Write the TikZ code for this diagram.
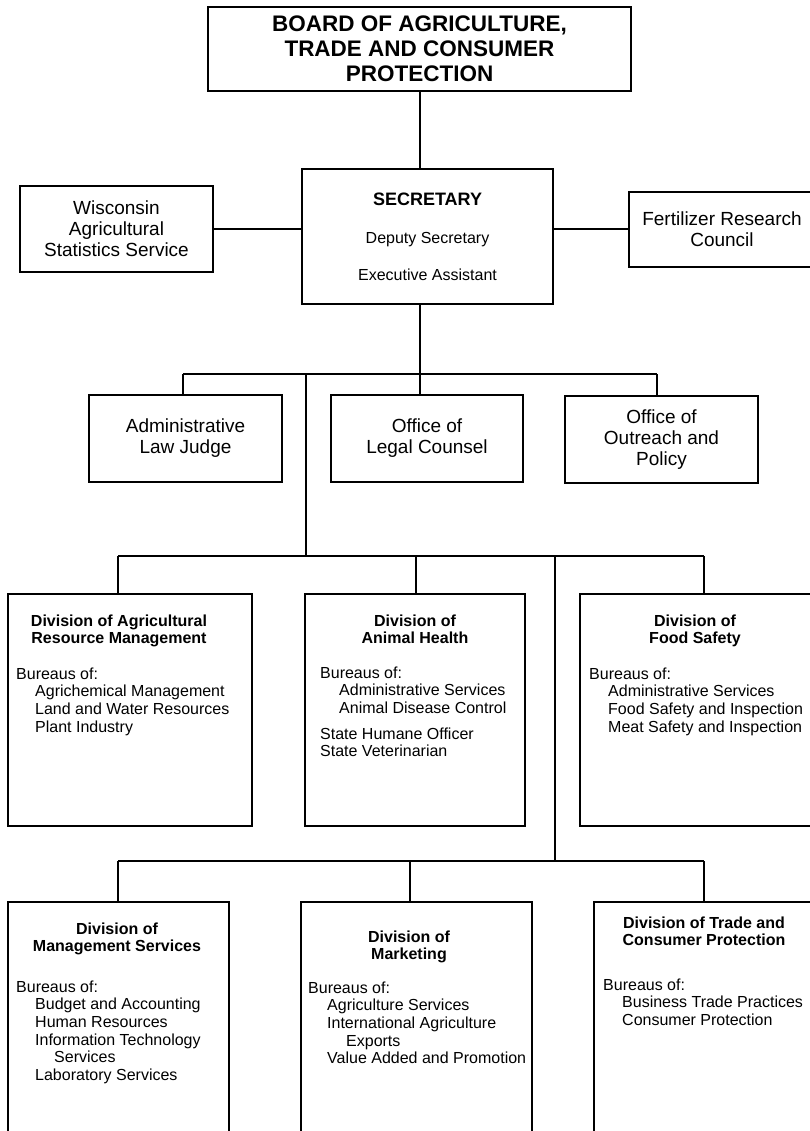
\documentclass[tikz,border=0pt]{standalone}
\usepackage{fontspec}
\setmainfont{Liberation Sans}
\newcommand\indA{\hspace*{19pt}}
\begin{document}
\begin{tikzpicture}[x=1pt,y=-1pt,
  box/.style={draw, line width=2pt, inner sep=0pt, outer sep=0pt, anchor=north west},
  big/.style={font=\fontsize{19}{21}\selectfont, align=center},
  tl/.style={inner sep=0pt, anchor=base west, font=\fontsize{16}{17.7}\selectfont},
  hd/.style={inner sep=0pt, anchor=base, font=\fontsize{16}{17.7}\selectfont\bfseries},
  ctext/.style={inner sep=0pt, anchor=base, font=\fontsize{16}{17.7}\selectfont},
  con/.style={line width=2pt}]
\useasboundingbox (0,0) rectangle (810,1131);
\clip (0,0) rectangle (810,1131);

% Board
\node[box, minimum width=423pt, minimum height=84pt, align=center,
      font=\fontsize{22.5}{25}\selectfont\bfseries] (board) at (208,7)
  {BOARD OF AGRICULTURE,\\TRADE AND CONSUMER\\PROTECTION};

% Secretary
\node[box, minimum width=251pt, minimum height=135pt] (sec) at (302,169) {};
\node[inner sep=0pt, anchor=base, font=\fontsize{18}{20}\selectfont\bfseries] (sect) at (427.5,205.5) {SECRETARY};
\node[ctext] (dep) at (427.5,244) {Deputy Secretary};
\node[ctext] (exa) at (427.5,281) {Executive Assistant};

% Side boxes
\node[box, big, minimum width=193pt, minimum height=86pt] (wis) at (20,186)
  {Wisconsin\\Agricultural\\Statistics Service};
\node[box, big, minimum width=186pt, minimum height=75pt] (fert) at (629,192)
  {Fertilizer Research\\Council};

% Office row
\node[box, big, minimum width=193pt, minimum height=87pt] (admin) at (89,395)
  {Administrative\\Law Judge};
\node[box, big, minimum width=192pt, minimum height=87pt] (legal) at (331,395)
  {Office of\\Legal Counsel};
\node[box, big, minimum width=193pt, minimum height=87pt] (outr) at (565,396)
  {Office of\\Outreach and\\Policy};

% Division row 1
\node[box, minimum width=244pt, minimum height=232pt] (d1) at (8,594) {};
\node[box, minimum width=220pt, minimum height=232pt] (d2) at (305,594) {};
\node[box, minimum width=235pt, minimum height=232pt] (d3) at (580,594) {};

% Division row 2
\node[box, minimum width=221pt, minimum height=240pt] (d4) at (8,902) {};
\node[box, minimum width=231pt, minimum height=240pt] (d5) at (301,902) {};
\node[box, minimum width=221pt, minimum height=240pt] (d6) at (594,902) {};

% Headers
\node[hd] (d1h) at (119,626) {\begin{tabular}[t]{@{}c@{}}Division of Agricultural\\Resource Management\end{tabular}};
\node[hd] (d2h) at (415,626) {\begin{tabular}[t]{@{}c@{}}Division of\\Animal Health\end{tabular}};
\node[hd] (d3h) at (695,626) {\begin{tabular}[t]{@{}c@{}}Division of\\Food Safety\end{tabular}};
\node[hd] (d4h) at (117,934) {\begin{tabular}[t]{@{}c@{}}Division of\\Management Services\end{tabular}};
\node[hd] (d5h) at (409,942) {\begin{tabular}[t]{@{}c@{}}Division of\\Marketing\end{tabular}};
\node[hd] (d6h) at (704,928) {\begin{tabular}[t]{@{}c@{}}Division of Trade and\\Consumer Protection\end{tabular}};

% Bodies
\node[tl] (d1b) at (16,679) {\begin{tabular}[t]{@{}l@{}}Bureaus of:\\\indA Agrichemical Management\\\indA Land and Water Resources\\\indA Plant Industry\end{tabular}};
\node[tl] (d2b) at (320,678) {\begin{tabular}[t]{@{}l@{}}Bureaus of:\\\indA Administrative Services\\\indA Animal Disease Control\\[8pt]State Humane Officer\\State Veterinarian\end{tabular}};
\node[tl] (d3b) at (589,679) {\begin{tabular}[t]{@{}l@{}}Bureaus of:\\\indA Administrative Services\\\indA Food Safety and Inspection\\\indA Meat Safety and Inspection\end{tabular}};
\node[tl] (d4b) at (16,992) {\begin{tabular}[t]{@{}l@{}}Bureaus of:\\\indA Budget and Accounting\\\indA Human Resources\\\indA Information Technology\\\indA\indA Services\\\indA Laboratory Services\end{tabular}};
\node[tl] (d5b) at (308,993) {\begin{tabular}[t]{@{}l@{}}Bureaus of:\\\indA Agriculture Services\\\indA International Agriculture\\\indA\indA Exports\\\indA Value Added and Promotion\end{tabular}};
\node[tl] (d6b) at (603,990) {\begin{tabular}[t]{@{}l@{}}Bureaus of:\\\indA Business Trade Practices\\\indA Consumer Protection\end{tabular}};

% Junction coordinates
\coordinate (b1L) at (183,374);
\coordinate (b1R) at (657,374);
\coordinate (b1M) at (306,374);
\coordinate (b2M) at (306,556);
\coordinate (b2L) at (118,556);
\coordinate (b2R) at (704,556);
\coordinate (b2C) at (416,556);
\coordinate (b2T) at (555,556);
\coordinate (b3T) at (555,861);
\coordinate (b3L) at (118,861);
\coordinate (b3R) at (704,861);
\coordinate (b3C) at (410,861);

% Connectors
\draw[con] (board.south) -- (board.south |- sec.north);
\draw[con] (wis.east) -- (wis.east -| sec.west);
\draw[con] (fert.west) -- (fert.west -| sec.east);
\draw[con] (sec.south -| board.south) -- (board.south |- legal.north);
\draw[con] (b1L) -- (b1R);
\draw[con] (b1L) -- (b1L |- admin.north);
\draw[con] (b1R) -- (b1R |- outr.north);
\draw[con] (b1M) -- (b2M);
\draw[con] (b2L) -- (b2R);
\draw[con] (b2L) -- (b2L |- d1.north);
\draw[con] (b2C) -- (b2C |- d2.north);
\draw[con] (b2R) -- (b2R |- d3.north);
\draw[con] (b2T) -- (b3T);
\draw[con] (b3L) -- (b3R);
\draw[con] (b3L) -- (b3L |- d4.north);
\draw[con] (b3C) -- (b3C |- d5.north);
\draw[con] (b3R) -- (b3R |- d6.north);
\end{tikzpicture}
\end{document}
